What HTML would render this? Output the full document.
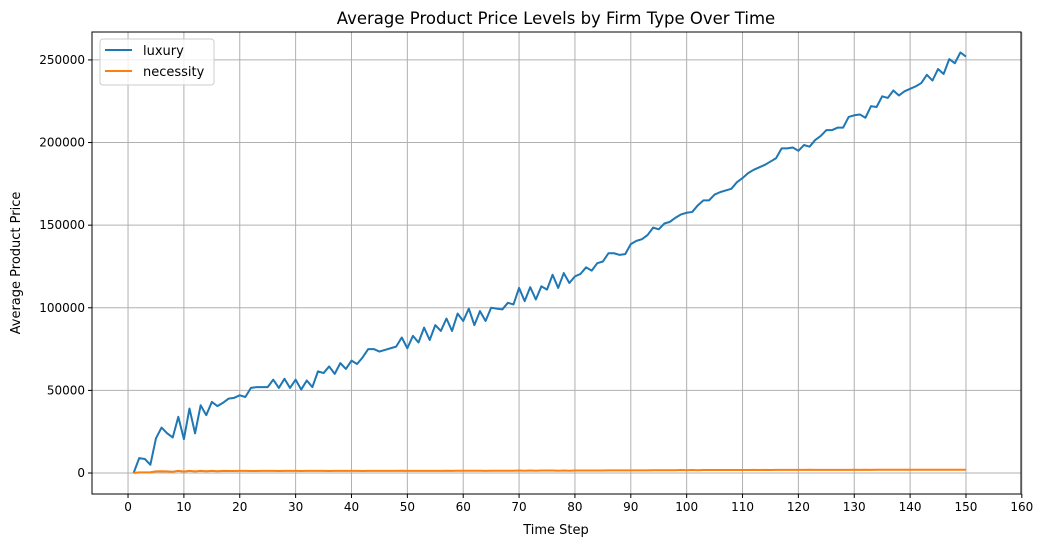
<!DOCTYPE html>
<html><head><meta charset="utf-8"><style>
body{margin:0;background:#fff;}
svg text{font-family:"DejaVu Sans","Liberation Sans",sans-serif;}
</style></head><body>
<svg id="chart" width="1045" height="547" xmlns="http://www.w3.org/2000/svg">
<rect width="1045" height="547" fill="#fff"/>
<text x="556" y="24" font-size="16.5" text-anchor="middle">Average Product Price Levels by Firm Type Over Time</text>
<g id="grid"></g>
<g id="ticks"></g>
<g id="series"></g>
<rect x="92" y="32" width="929" height="462" fill="none" stroke="#000" stroke-width="1"/>
<text x="556" y="534" font-size="13" text-anchor="middle">Time Step</text>
<text transform="translate(20,263) rotate(-90)" font-size="13" text-anchor="middle">Average Product Price</text>
<g>
<rect x="100" y="39" width="114" height="46" rx="3" fill="#fff" fill-opacity="0.8" stroke="#ccc"/>
<line x1="105" y1="50" x2="132" y2="50" stroke="#1f77b4" stroke-width="2"/>
<text x="143" y="55" font-size="13">luxury</text>
<line x1="105" y1="71" x2="132" y2="71" stroke="#ff7f0e" stroke-width="2"/>
<text x="143" y="76" font-size="13">necessity</text>
</g>
</svg>
<script>
const luxury=[0,9,8.5,5,21,27.5,24,21.5,34,20.5,39,24,41,35,43,40.5,42.5,45,45.5,47,46,51.5,52,52,52,56.5,51.5,57,51.5,56.5,50.5,56,52,61.5,60.5,64.5,60,66.5,63,68,66,70,75,75,73.5,74.5,75.5,76.5,82,75.5,83,79,88,80.5,89.5,86,93.5,86,96.5,92,99.5,89.5,98,92,100,99.5,99,103,102,112,104,112.5,105,113,111,120,112,121,115,119,120.5,124.5,122.5,127,128,133,133,132,132.5,138.5,140.5,141.5,144,148.5,147.5,151,152,154.5,156.5,157.5,158,162,165,165,168.5,170,171,172,176,178.5,181.5,183.5,185,186.5,188.5,190.5,196.5,196.5,197,195,198.5,197.5,201.5,204,207.5,207.5,209,209,215.5,216.5,217,215,222,221.5,228,227,231.5,228.5,231,232.5,234,236,241,237.5,244.5,241.5,250.5,248,254.5,252];
const necessity=[0,0.4,0.4,0.5,1.0,1.1,1.0,0.8,1.3,0.9,1.3,1.0,1.3,1.1,1.3,1.1,1.3,1.2,1.2,1.3,1.3,1.2,1.2,1.3,1.3,1.3,1.2,1.3,1.3,1.3,1.2,1.3,1.3,1.3,1.3,1.2,1.3,1.3,1.3,1.3,1.3,1.2,1.3,1.3,1.3,1.3,1.3,1.3,1.4,1.3,1.3,1.3,1.3,1.3,1.3,1.3,1.4,1.3,1.4,1.4,1.4,1.4,1.4,1.3,1.4,1.4,1.4,1.4,1.4,1.5,1.4,1.5,1.4,1.5,1.5,1.5,1.4,1.5,1.4,1.5,1.5,1.5,1.5,1.5,1.5,1.6,1.6,1.6,1.6,1.6,1.6,1.6,1.6,1.7,1.7,1.7,1.7,1.7,1.8,1.7,1.8,1.7,1.8,1.8,1.8,1.8,1.8,1.8,1.8,1.8,1.8,1.9,1.8,1.9,1.8,1.9,1.9,1.9,1.9,1.9,1.9,2.0,1.9,1.9,1.9,1.9,1.9,1.9,1.9,2.0,1.9,2.0,1.9,2.0,2.0,2.0,2.0,2.0,2.0,2.0,2.0,2.0,2.0,2.0,2.0,2.0,2.0,2.0,2.0,2.0];
const xTicks=[0,10,20,30,40,50,60,70,80,90,100,110,120,130,140,150,160];
const yTicks=[0,50000,100000,150000,200000,250000];
const X0=-6.45,X1=159.85,Y0=-12700,Y1=266900;
const L=92,R=1021,T=32,B=494;
const sx=v=>L+(v-X0)/(X1-X0)*(R-L);
const sy=v=>B-(v-Y0)/(Y1-Y0)*(B-T);
const NS="http://www.w3.org/2000/svg";
function mk(tag,attrs,parent){const e=document.createElementNS(NS,tag);for(const k in attrs)e.setAttribute(k,attrs[k]);parent.appendChild(e);return e;}
const grid=document.getElementById('grid'),ticks=document.getElementById('ticks'),series=document.getElementById('series');
xTicks.forEach(t=>{const x=sx(t);
 const g=mk('line',{x1:x,x2:x,y1:T,y2:B,stroke:'#b0b0b0','stroke-width':1},grid);
 
 
 mk('line',{x1:x,x2:x,y1:B,y2:B+4,stroke:'#000'},ticks);
 const tx=mk('text',{x:x,y:B+17,'font-size':12,'text-anchor':'middle'},ticks);
 tx.textContent=t;
 
 
});
yTicks.forEach(t=>{const y=sy(t);
 const g=mk('line',{x1:L,x2:R,y1:y,y2:y,stroke:'#b0b0b0','stroke-width':1},grid);
 
 
 mk('line',{x1:L-4,x2:L,y1:y,y2:y,stroke:'#000'},ticks);
 const tx=mk('text',{x:L-7,y:y+4,'font-size':12,'text-anchor':'end'},ticks);
 tx.textContent=t;
 
 
});
function line(arr,color,name){
 const pts=arr.slice(0,150).map((v,i)=>sx(i+1).toFixed(2)+','+sy(v*1000).toFixed(2)).join(' ');
 const p=mk('polyline',{points:pts,fill:'none',stroke:color,'stroke-width':2,'stroke-linejoin':'round'},series);
 
 
}
line(luxury,'#1f77b4','luxury-line');
line(necessity,'#ff7f0e','necessity-line');
</script>
</body></html>
